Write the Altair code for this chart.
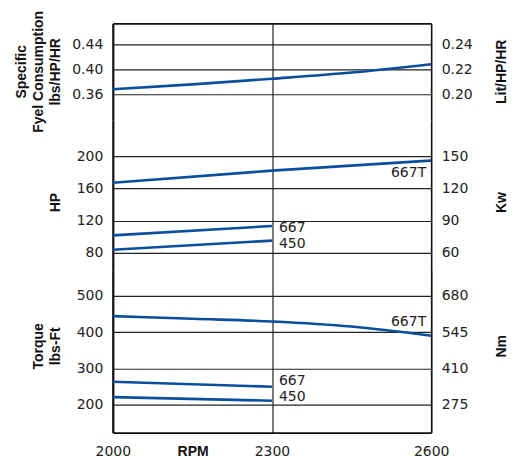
import altair as alt
import pandas as pd

# ---- data ----
rpm5 = [2000, 2150, 2300, 2450, 2600]
rpm3 = [2000, 2300, 2600]
rpm2 = [2000, 2300]

fuel_lbs = [0.368, 0.376, 0.385, 0.395, 0.4085]

hp_667t = [167.0, 182.0, 194.5]
hp_667 = [101.6, 113.2]
hp_450 = [83.7, 95.0]

tq_667t = [443.7, 436.3, 429.0, 415.0, 390.0]
tq_667 = [263.7, 250.0]
tq_450 = [221.6, 211.7]

rpm_ticks = [2000, 2300, 2600]
fuel_ticks = [0.36, 0.40, 0.44]
lit_ticks = [0.20, 0.22, 0.24]
hp_ticks = [80, 120, 160, 200]
kw_ticks = [60, 90, 120, 150]
tq_ticks = [200, 300, 400, 500]
nm_ticks = [275, 410, 545, 680]

BLUE = "#0a4f9e"
W = 319
LABEL_FONT = "DejaVu Sans"
TITLE_FONT = "Liberation Sans"


def long(pairs):
    rows = []
    for name, xs, ys in pairs:
        for x, y in zip(xs, ys):
            rows.append({"rpm": x, "value": y, "series": name})
    return pd.DataFrame(rows)


def panel(df, height, ydom, rdom, lticks, rticks, lfmt, rfmt,
          ltitle, ltx, lty, rtitle, rty, xaxis, labels):
    xs = alt.X("rpm:Q", scale=alt.Scale(domain=[2000, 2600], nice=False, zero=False), axis=xaxis)
    ys = alt.Y("value:Q", scale=alt.Scale(domain=ydom, nice=False, zero=False),
               axis=alt.Axis(orient="left", values=lticks, format=lfmt, ticks=False,
                             labelPadding=10, grid=True, domain=True, domainWidth=2.2,
                             title=ltitle, titleAngle=270, titleX=ltx, titleY=lty,
                             titleBaseline="middle", titleAlign="center", titleLineHeight=17))
    lines = alt.Chart(df).mark_line(color=BLUE, strokeWidth=2.6, interpolate="monotone").encode(
        x=xs, y=ys, detail="series:N",
    )
    layers = [lines]
    for (name, ex, ey, align, dx, dy) in labels:
        ldf = pd.DataFrame([{"rpm": ex, "value": ey, "text": name}])
        layers.append(alt.Chart(ldf).mark_text(
            align=align, baseline="middle", dx=dx, dy=dy, fontSize=14,
            font=LABEL_FONT, color="#222").encode(x=xs, y=ys, text="text:N"))
    base = alt.layer(*layers)
    rdf = pd.DataFrame({"r": rticks})
    right = alt.Chart(rdf).mark_point(opacity=0).encode(
        x=alt.value(0),
        y=alt.Y("r:Q", scale=alt.Scale(domain=rdom, nice=False, zero=False),
                axis=alt.Axis(orient="right", values=rticks, format=rfmt, ticks=False,
                              labelPadding=10, grid=False, domain=True, domainWidth=1.6,
                              title=rtitle, titleAngle=270, titleX=70, titleY=rty,
                              titleBaseline="middle", titleAlign="center")),
    )
    return alt.layer(base, right).resolve_scale(y="independent").properties(width=W, height=height)


top_ax = alt.Axis(orient="top", values=[2300], labels=False, ticks=False, domain=True,
                  domainWidth=1.6, grid=True, title=None)
mid_ax = alt.Axis(orient="bottom", values=[2300], labels=False, ticks=False, domain=False,
                  grid=True, title=None)
bot_ax = alt.Axis(orient="bottom", values=rpm_ticks, format="d", ticks=False, domain=True,
                  domainWidth=1.6, grid=True, labelPadding=12, labelFlush=False, title="RPM",
                  titleX=80, titleY=19, titleBaseline="middle", titleAlign="center")

fuel_df = long([("fuel", rpm5, fuel_lbs)])
hp_df = long([("667T", rpm3, hp_667t), ("667", rpm2, hp_667), ("450", rpm2, hp_450)])
tq_df = long([("667T", rpm5, tq_667t), ("667", rpm2, tq_667), ("450", rpm2, tq_450)])

p1 = panel(fuel_df, 97, [0.3181, 0.4743], [0.3181 * 0.5 + 0.02, 0.4743 * 0.5 + 0.02],
           fuel_ticks, lit_ticks, ".2f", ".2f",
           ["Specific", "Fyel Consumption", "lbs/HP/HR"], -91, 48, "Lit/HP/HR", 48,
           top_ax, [])
p2 = panel(hp_df, 150, [58.6, 244.7], [58.6 * 0.75, 244.7 * 0.75],
           hp_ticks, kw_ticks, "d", "d",
           "HP", -57, 82, "Kw", 82, mid_ax,
           [("667T", rpm3[-1], hp_667t[-1], "right", -5, 12),
            ("667", rpm2[-1], hp_667[-1], "left", 7, 2),
            ("450", rpm2[-1], hp_450[-1], "left", 7, 3)])
p3 = panel(tq_df, 163, [124.2, 570.3], [124.2 * 1.35 + 5, 570.3 * 1.35 + 5],
           tq_ticks, nm_ticks, "d", "d",
           ["Torque", "lbs-Ft"], -74, 76, "Nm", 76, bot_ax,
           [("667T", rpm5[-1], tq_667t[-1], "right", -5, -14),
            ("667", rpm2[-1], tq_667[-1], "left", 7, -6),
            ("450", rpm2[-1], tq_450[-1], "left", 7, -4)])

chart = alt.vconcat(p1, p2, p3, spacing=0, bounds="flush").properties(
    padding={"left": 7, "top": 1, "right": 3, "bottom": 0}
).configure_view(stroke=None).configure_axis(
    labelFont=LABEL_FONT, labelFontSize=14, labelColor="#222",
    titleFont=TITLE_FONT, titleFontSize=14, titleFontWeight="bold", titleColor="#111",
    domainColor="#111", gridColor="#222", gridWidth=1.2, tickSize=0,
)

chart.save("out.html", embed_options={"renderer": "svg", "actions": False})
